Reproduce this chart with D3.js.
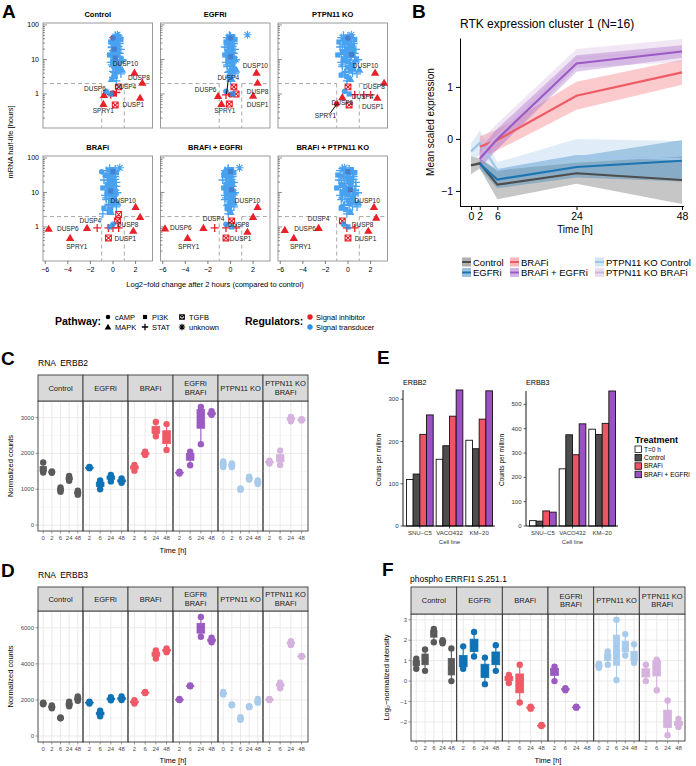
<!DOCTYPE html>
<html><head><meta charset="utf-8">
<script src="https://cdn.jsdelivr.net/npm/d3@7"></script>
<style>body{margin:0;background:#fff}svg{display:block}text{font-family:"Liberation Sans",Arial,sans-serif}</style>
</head><body><svg id="c" width="696" height="766"></svg>
<script>
// ================= DATA =================
// Panel A
const aTitles = ["Control","EGFRi","PTPN11 KO","BRAFi","BRAFi + EGFRi","BRAFi + PTPN11 KO"];
const blueHL = [52,48,45,42,40,36,33,30,28,26,24,22,20,19,18,16,15,14,13,12,11,10,9.5,9,8,7.5,7,6,5.5,5,4.5,4,3.5,3,2.7,2.4,1.2,1.0,
  50,46,43,38,35,32,29,27,25,23,21,19.5,17,15.5,14.5,13.5,12.5,11.5,10.5,9.8,8.8,8.2,7.2,6.6,6.2,5.2,4.8,4.2,3.8,3.2];
const blueShape = ("apspcspspsppscpsppspstpspcpsptppsptpcs"+"pspspsppspspspssppspspsppsspps").split("");
const blueLFC = [
 [0.4,0.5,0.3,0.6,0.1,0.2,0.4,0.0,0.3,0.1,0.5,-0.1,0.2,0.4,0.0,0.3,0.6,-0.2,0.1,0.4,0.2,0.7,0.9,0.0,0.3,0.5,-0.1,0.2,0.4,0.8,0.0,0.3,0.1,0.0,-0.1,0.3,-0.6,-0.2,
  0.2,0.5,0.0,0.7,0.3,-0.2,0.6,0.1,0.4,-0.1,0.3,0.7,0.0,0.5,0.2,-0.3,0.4,0.6,0.1,0.8,0.2,-0.2,0.5,0.3,0.0,0.6,0.4,0.1,0.7,0.2],
 [1.5,0.0,-0.1,0.1,-0.2,0.0,0.2,-0.3,0.1,-0.1,0.2,-0.3,0.0,0.1,-0.2,0.0,0.3,-0.4,-0.1,0.2,0.0,0.4,0.1,-0.2,0.0,0.2,-0.3,0.1,0.3,0.5,-0.1,0.2,0.0,-0.1,0.1,0.0,-0.4,0.2,
  -0.1,0.2,-0.3,0.4,0.0,-0.4,0.3,-0.2,0.1,-0.5,0.0,0.4,-0.3,0.2,-0.1,-0.5,0.1,0.3,-0.2,0.5,0.0,-0.4,0.2,0.0,-0.3,0.3,0.1,-0.2,0.4,-0.1],
 [0.3,0.0,-0.2,0.2,-0.4,0.1,0.3,-0.3,0.0,0.4,-0.5,0.2,-0.1,0.5,-0.3,0.1,0.6,-0.6,0.0,0.3,-0.2,0.7,0.2,-0.4,0.1,0.5,-0.5,0.0,0.3,1.0,-0.2,0.4,-0.6,0.0,0.2,-0.1,-0.3,0.1,
  -0.4,0.3,-0.6,0.6,0.0,-0.8,0.5,-0.3,0.2,-0.7,0.1,0.7,-0.5,0.4,-0.2,-0.9,0.3,0.6,-0.4,0.9,0.0,-0.6,0.4,0.1,-0.5,0.5,0.2,-0.3,0.8,-0.1],
 [0.6,0.2,-0.3,0.0,-1.0,-0.2,0.1,-0.4,0.0,-0.3,0.2,-0.5,-0.1,0.1,-0.4,-0.2,0.3,-0.6,-0.3,0.0,-0.2,0.2,-0.1,-0.5,-0.3,0.1,-0.6,-0.2,0.0,0.4,-0.4,-0.1,-0.8,-0.5,-0.2,-0.9,0.0,-0.3,
  -0.3,0.0,-0.6,0.3,-0.2,-0.7,0.2,-0.4,-0.1,-0.8,-0.2,0.3,-0.5,0.1,-0.3,-0.9,0.0,0.2,-0.5,0.4,-0.2,-0.7,0.1,-0.3,-0.6,0.2,-0.1,-0.4,0.3,-0.2],
 [0.8,-0.2,-0.3,0.0,-0.5,-0.1,0.1,-0.3,0.0,-0.2,0.1,-0.4,-0.1,0.2,-0.3,0.0,0.2,-0.5,-0.2,0.1,-0.1,0.3,0.0,-0.3,-0.1,0.2,-0.4,0.0,0.1,0.3,-0.2,0.0,-0.3,-0.1,0.0,-0.2,-0.4,0.1,
  -0.2,0.1,-0.5,0.3,-0.1,-0.6,0.2,-0.3,0.0,-0.7,-0.1,0.3,-0.4,0.1,-0.2,-0.6,0.0,0.2,-0.4,0.4,-0.1,-0.5,0.2,-0.2,-0.5,0.2,0.0,-0.3,0.3,-0.1],
 [-0.3,0.1,-0.4,0.3,-0.2,0.0,0.4,-0.5,0.2,-0.1,0.5,-0.6,0.1,0.3,-0.3,0.2,0.7,-0.7,0.0,0.4,-0.2,0.6,0.1,-0.4,0.2,0.5,-0.5,0.0,0.3,0.9,-0.3,0.4,-0.6,0.1,0.2,-0.1,-0.4,0.0,
  -0.5,0.3,-0.7,0.6,-0.1,-0.9,0.5,-0.4,0.2,-0.8,0.0,0.7,-0.6,0.4,-0.3,-1.0,0.2,0.6,-0.5,0.9,-0.1,-0.7,0.4,0.0,-0.6,0.5,0.1,-0.4,0.8,-0.2]
];
const redPts = [
 [[1.9,4.1,'t'],[2.6,2.1,'t'],[2.4,0.77,'t'],[0.2,0.48,'x'],[-0.8,0.94,'t'],[-0.85,0.51,'t'],[0.5,1.6,'x'],[0.0,1.07,'c'],[-0.2,0.95,'p'],[0.3,1.1,'p'],[0.1,1.0,'s'],[0.0,42,'c'],[0.2,11,'s'],[0.1,20,'s']],
 [[2.3,4.1,'t'],[2.4,2.1,'t'],[2.0,0.89,'t'],[-1.1,0.87,'t'],[-0.8,0.51,'t'],[-0.1,0.51,'x'],[0.3,1.6,'x'],[0.5,1.0,'x'],[-0.4,0.94,'p'],[0.0,0.95,'c'],[0.0,42,'c'],[0.0,12,'s']],
 [[2.4,4.1,'t'],[3.2,2.1,'t'],[2.6,0.77,'t'],[0.1,0.48,'x'],[0.0,1.6,'x'],[1.4,0.94,'p'],[2.0,0.94,'p'],[-1.0,0.51,'c'],[-0.5,0.8,'t'],[0.6,0.95,'p'],[0.0,42,'c'],[0.3,14,'s']],
 [[-5.7,0.88,'t'],[-3.8,0.48,'t'],[-2.3,0.94,'t'],[-1.4,0.94,'p'],[-0.4,0.94,'p'],[0.0,0.94,'p'],[0.5,0.94,'p'],[0.4,1.5,'x'],[0.5,2.3,'x'],[-0.4,0.48,'x'],[1.8,0.77,'t'],[2.0,3.8,'t'],[2.4,1.95,'t'],[0.0,40,'s'],[-0.2,11,'s']],
 [[-5.8,0.9,'t'],[-3.8,0.48,'t'],[-2.4,0.94,'t'],[-1.4,0.94,'p'],[-0.4,0.94,'p'],[0.5,0.94,'p'],[0.1,1.5,'x'],[-0.4,0.48,'x'],[1.5,0.72,'t'],[2.0,1.95,'t'],[2.4,3.8,'t'],[0.0,40,'s'],[0.1,12,'s']],
 [[-5.6,0.82,'t'],[-4.8,0.48,'t'],[-2.6,0.94,'t'],[-0.5,1.5,'x'],[-0.1,0.94,'p'],[0.6,0.94,'p'],[0.0,0.48,'x'],[1.8,0.77,'t'],[2.3,3.8,'t'],[2.5,1.85,'t'],[0.0,40,'s'],[0.2,12,'s']]
];
const geneLabels = [
 [["DUSP10",1.1,7.4],["DUSP8",2.3,2.9],["DUSP4",1.1,1.6],["DUSP6",-1.6,1.4],["SPRY1",-0.85,0.32],["DUSP1",1.8,0.48]],
 [["DUSP10",2.2,6.5],["DUSP4",-0.2,2.9],["DUSP6",-2.2,1.3],["DUSP8",2.4,1.2],["DUSP1",2.4,0.48],["SPRY1",-0.5,0.32]],
 [["DUSP10",1.55,6.5],["DUSP8",2.3,1.6],["DUSP4",1.3,0.82],["DUSP1",2.2,0.42],["DUSP6",-0.5,0.55],["SPRY1",-2.0,0.23]],
 [["DUSP10",0.9,5.7],["DUSP8",1.3,1.14],["DUSP4",-2.0,1.5],["DUSP6",-4.0,0.88],["SPRY1",-3.2,0.26],["DUSP1",1.1,0.45]],
 [["DUSP10",1.5,5.7],["DUSP8",0.7,1.14],["DUSP4",-1.5,1.7],["DUSP6",-4.4,0.94],["SPRY1",-3.7,0.26],["DUSP1",0.9,0.45]],
 [["DUSP10",1.7,5.7],["DUSP8",1.3,1.14],["DUSP4",-2.6,1.7],["DUSP6",-3.8,0.88],["SPRY1",-4.2,0.26],["DUSP1",1.55,0.45]]
];
const leaderLines = [[],[[-0.2,2.5,-0.35,1.0]],[[-1.6,0.27,-1.0,0.5]],[],[],[]];
const aXTicks = [-6,-4,-2,0,2];
const aYTicks = [1,10,100];
const pathwayNames = ["cAMP","PI3K","TGFB","MAPK","STAT","unknown"];
const pathwayShapes = ["c","s","x","t","p","a"];
const regulatorNames = ["Signal inhibitor","Signal transducer"];

// Panel B
const bTimes = [0,2,6,24,48];
const bNames = ["Control","EGFRi","BRAFi","BRAFi + EGFRi","PTPN11 KO Control","PTPN11 KO BRAFi"];
const bMean = [[-0.51,-0.47,-0.88,-0.66,-0.79],[null,-0.48,-0.78,-0.54,-0.42],[null,-0.15,-0.02,0.83,1.28],[null,-0.38,0.0,1.45,1.68],[-0.24,-0.08,-0.6,-0.33,-0.39],[null,-0.3,0.05,1.55,1.7]];
const bLo = [[-0.68,-0.57,-1.16,-0.86,-1.25],[null,-0.58,-0.95,-0.74,-0.82],[null,-0.35,-0.22,0.56,1.04],[null,-0.56,-0.2,1.29,1.56],[-0.39,-0.32,-0.75,-0.66,-0.74],[null,-0.55,-0.2,1.37,1.48]];
const bHi = [[-0.34,-0.37,-0.6,-0.46,-0.34],[null,-0.38,-0.61,-0.34,-0.02],[null,0.05,0.18,1.1,1.52],[null,-0.2,0.2,1.61,1.8],[-0.09,0.16,-0.45,0.0,-0.04],[null,-0.05,0.3,1.73,1.92]];
const bYTicks = [-1,0,1];

// Panels C, D, F (facets)
const facetNames = ["Control","EGFRi","BRAFi","EGFRi\nBRAFi","PTPN11 KO","PTPN11 KO\nBRAFi"];
const facetTimes = [["0","2","6","24","48"],["2","6","24","48"],["2","6","24","48"],["2","6","24","48"],["0","2","6","24","48"],["2","6","24","48"]];
const rnaERBB2 = [
 [[1750,1530,1470],[1500,1480,1460],[1050,980,930],[1370,1300,1240],[960,900,850]],
 [[1620,1600,1590],[1250,1150,1000],[1400,1340,1220],[1300,1230,1180]],
 [[1680,1620,1520],[2050,1990,1960],[2880,2630,2480],[2820,2450,2100]],
 [[1490,1460,1440],[2050,1950,1670],[3300,3150,2260],[3180,3100,3080]],
 [[1780,1700,1620],[1720,1660,1620],[1020,1000,990],[1350,1300,1270],[1250,1200,1150]],
 [[1800,1760,1720],[2080,1850,1680],[3020,2970,2900],[2960,2940,2920]]
];
const rnaERBB3 = [
 [[1850,1800,1760],[1700,1600,1540],[1030,1000,980],[1900,1750,1650],[2200,2050,1950]],
 [[1900,1850,1800],[1400,1250,1100],[2150,2050,1980],[2200,2050,2000]],
 [[1980,1880,1800],[2450,2400,2380],[4750,4550,4300],[4850,4750,4650]],
 [[2050,2020,2000],[2800,2780,2760],[6600,5900,5500],[5450,5300,5200]],
 [[2450,2350,2300],[1750,1720,1700],[1050,950,900],[1650,1620,1600],[2050,1920,1850]],
 [[2050,2020,2000],[2950,2850,2650],[5250,5150,5050],[4440,4420,4400]]
];
const phosERRFI1 = [
 [[1.1,0.9,0.6],[1.55,1.1,0.5],[2.55,2.4,1.9],[2.0,1.93,1.85],[1.6,0.6,0.0]],
 [[1.7,0.8,0.6],[2.4,1.7,1.2],[1.15,0.5,-0.15],[1.75,1.1,0.5]],
 [[0.3,0.15,-0.1],[0.8,-0.1,-1.05],[-1.25,-1.3,-1.35],[-2.15,-2.18,-2.2]],
 [[0.7,0.55,0.0],[-0.35,-0.4,-0.45],[-1.25,-1.28,-1.3],[]],
 [[0.85,0.75,0.65],[1.45,1.2,0.8],[3.0,1.5,0.05],[2.3,1.6,1.25],[1.8,1.1,0.9]],
 [[0.8,0.4,0.0],[1.05,0.95,-0.45],[-0.95,-1.9,-2.65],[-1.85,-2.1,-2.25]]
];
const cYTicks = [0,1000,2000,3000];
const dYTicks = [0,2000,4000,6000];
const fYTicks = [-2,-1,0,1,2,3];

// Panel E
const eCells = ["SNU\u2212C5","VACO432","KM\u221220"];
const eTreat = ["T=0 h","Control","BRAFi","BRAFi + EGFRi"];
const eERBB2 = [[110,123,217,263],[158,190,260,322],[203,183,253,320]];
const eERBB3 = [[22,20,62,57],[235,375,293,420],[398,376,422,555]];
const eERBB2Ticks = [0,100,200,300];
const eERBB3Ticks = [0,100,200,300,400,500];

// ================= STYLE =================
const condColors = ["#5a5a5a","#0f72b4","#f05a66","#9b5bc2","#a9cbeb","#d5b3de"];
const bColors = ["#4d4d4d","#1b75b3","#ef5b65","#9c5bc4","#9fc6ea","#d3b1de"];
const eColors = ["#ffffff","#4d4d4d","#ef5466","#9b50c4"];
const RED = "#ea2029", BLUE = "#2a92ee";

const svg = d3.select("#c");
function txt(g,x,y,s,size,opt={}){
  const t=g.append("text").attr("x",x).attr("y",y).text(s).style("font-size",size+"px");
  if(opt.anchor) t.attr("text-anchor",opt.anchor);
  if(opt.bold) t.style("font-weight","bold");
  if(opt.fill) t.attr("fill",opt.fill);
  if(opt.pre) t.style("white-space","pre");
  if(opt.rot) t.attr("transform",`rotate(-90,${x},${y})`);
  return t;
}
[["A",2,18],["B",412,18],["C",1,365],["D",1,577],["E",377,364],["F",382,576]].forEach(d=>txt(svg,d[1],d[2],d[0],19,{bold:true}));

// ================= PANEL A =================
function sym(g,x,y,shape,color,scale=1){
  if(shape==='c') g.append("circle").attr("cx",x).attr("cy",y).attr("r",2.8*scale).attr("fill",color);
  else if(shape==='s') g.append("rect").attr("x",x-2.6*scale).attr("y",y-2.6*scale).attr("width",5.2*scale).attr("height",5.2*scale).attr("fill",color);
  else if(shape==='t') g.append("path").attr("d",d3.symbol(d3.symbolTriangle,30*scale*scale)()).attr("transform",`translate(${x},${y+0.6})`).attr("fill",color);
  else if(shape==='p'){const r=4*scale;g.append("path").attr("d",`M${x-r},${y}h${2*r}M${x},${y-r}v${2*r}`).attr("stroke",color).attr("stroke-width",1.3);}
  else if(shape==='a'){const r=4*scale,q=r*0.72;g.append("path").attr("d",`M${x-r},${y}h${2*r}M${x},${y-r}v${2*r}M${x-q},${y-q}L${x+q},${y+q}M${x-q},${y+q}L${x+q},${y-q}`).attr("stroke",color).attr("stroke-width",1.1);}
  else if(shape==='x'){const r=2.9*scale;g.append("path").attr("d",`M${x-r},${y-r}h${2*r}v${2*r}h${-2*r}ZM${x-r},${y-r}L${x+r},${y+r}M${x-r},${y+r}L${x+r},${y-r}`).attr("stroke",color).attr("stroke-width",1.1).attr("fill","none");}
}
(function(){
  const W=109.5, X0=43, STEP=117.5, TOPS=[23,156], H=105;
  const g=svg.append("g");
  aTitles.forEach((title,i)=>{
    const col=i%3,row=Math.floor(i/3);
    const x0=X0+col*STEP, y0=TOPS[row];
    const xs=d3.scaleLinear().domain([-6.2,3.5]).range([x0,x0+W]);
    const ys=d3.scaleLog().domain([0.103,114]).range([y0+H,y0]);
    g.append("rect").attr("x",x0).attr("y",y0).attr("width",W).attr("height",H).attr("fill","#fff").attr("stroke","#9a9a9a").attr("stroke-width",1);
    txt(g,x0+W/2,y0-6,title,7.5,{anchor:"middle",bold:true});
    [0.1,1,10,100].forEach(dec=>{
      for(let k=1;k<10;k++){const v=dec*k; if(v<ys.domain()[0]||v>ys.domain()[1]) continue;
        const yy=ys(v); g.append("line").attr("x1",x0).attr("x2",x0+(k===1?4:2)).attr("y1",yy).attr("y2",yy).attr("stroke","#444").attr("stroke-width",0.6);}
    });
    if(col===0) aYTicks.forEach(v=>txt(g,x0-4,ys(v)+2.5,String(v),7,{anchor:"end"}));
    if(row===1) aXTicks.forEach(v=>{
      g.append("line").attr("x1",xs(v)).attr("x2",xs(v)).attr("y1",y0+H).attr("y2",y0+H+3).attr("stroke","#444").attr("stroke-width",0.7);
      txt(g,xs(v),y0+H+11,v<0?"\u2212"+(-v):String(v),7,{anchor:"middle"});
    });
    const dash=l=>l.attr("stroke","#a8a8a8").attr("stroke-width",1).attr("stroke-dasharray","4,3");
    dash(g.append("line").attr("x1",xs(-6.2)).attr("x2",xs(-1)).attr("y1",ys(2)).attr("y2",ys(2)));
    dash(g.append("line").attr("x1",xs(1)).attr("x2",xs(3.5)).attr("y1",ys(2)).attr("y2",ys(2)));
    dash(g.append("line").attr("x1",xs(-1)).attr("x2",xs(-1)).attr("y1",ys(2)).attr("y2",y0+H));
    dash(g.append("line").attr("x1",xs(1)).attr("x2",xs(1)).attr("y1",ys(2)).attr("y2",y0+H));
    redPts[i].forEach(p=>sym(g,xs(p[0]),ys(p[1]),p[2],RED));
    const bg=g.append("g").attr("opacity",0.85);
    blueHL.forEach((hl,j)=>sym(bg,xs(blueLFC[i][j]),ys(hl),blueShape[j],BLUE));
    leaderLines[i].forEach(l=>g.append("line").attr("x1",xs(l[0])).attr("y1",ys(l[1])).attr("x2",xs(l[2])).attr("y2",ys(l[3])).attr("stroke","#000").attr("stroke-width",1));
    geneLabels[i].forEach(l=>txt(g,xs(l[1]),ys(l[2])+2.3,l[0],6.5,{anchor:"middle",fill:"#222"}));
  });
  txt(g,13,142,"mRNA half-life [hours]",7.5,{anchor:"middle",rot:true});
  txt(g,215,287,"Log2\u2212fold change after 2 hours (compared to control)",7.5,{anchor:"middle"});
  txt(g,55,325,"Pathway:",10.5,{bold:true});
  pathwayNames.forEach((n,k)=>{
    const cx=108+(k%3)*37, cy=317+Math.floor(k/3)*10;
    sym(g,cx,cy,pathwayShapes[k],"#000",0.8);
    txt(g,cx+7,cy+2.6,n,7.5);
  });
  txt(g,245,325,"Regulators:",10.5,{bold:true});
  regulatorNames.forEach((n,k)=>{
    const cy=317+k*10;
    g.append("circle").attr("cx",310).attr("cy",cy).attr("r",2.7).attr("fill",k?BLUE:RED);
    txt(g,316,cy+2.6,n,7.5);
  });
})();

// ================= PANEL B =================
(function(){
  const g=svg.append("g");
  const x=d3.scaleLinear().domain([-2.5,48]).range([460,682]);
  const y=d3.scaleLinear().domain([-1.29,1.94]).range([206,38]);
  txt(g,460,28,"RTK expression cluster 1 (N=16)",12);
  const order=[0,4,1,2,5,3];
  order.forEach(s=>{
    const d=bTimes.map((t,k)=>({t,m:bMean[s][k],lo:bLo[s][k],hi:bHi[s][k]})).filter(v=>v.m!=null);
    g.append("path").attr("d",d3.area().x(v=>x(v.t)).y0(v=>y(v.lo)).y1(v=>y(v.hi))(d)).attr("fill",bColors[s]).attr("opacity",0.32);
  });
  order.forEach(s=>{
    const d=bTimes.map((t,k)=>({t,m:bMean[s][k]})).filter(v=>v.m!=null);
    g.append("path").attr("d",d3.line().x(v=>x(v.t)).y(v=>y(v.m))(d)).attr("fill","none").attr("stroke",bColors[s]).attr("stroke-width",2.2);
  });
  const ax=g.append("g").attr("transform","translate(0,206)").call(d3.axisBottom(x).tickValues(bTimes).tickFormat(d3.format("d")).tickSize(4).tickSizeOuter(0));
  const ay=g.append("g").attr("transform","translate(460,0)").call(d3.axisLeft(y).tickValues(bYTicks).tickFormat(d3.format("d")).tickSize(4).tickSizeOuter(0));
  [ax,ay].forEach(a=>{a.selectAll("text").style("font-size","10.5px").attr("fill","#000");a.selectAll("path,line").attr("stroke","#000");});
  ax.select(".domain").attr("d","M460,0.5H684");
  txt(g,575,233,"Time [h]",10,{anchor:"middle"});
  txt(g,434,122,"Mean scaled expression",10,{anchor:"middle",rot:true});
  const kx=[462,510,595];
  bNames.forEach((n,s)=>{
    const cx=kx[Math.floor(s/2)], cy=262+(s%2)*10.5;
    g.append("rect").attr("x",cx).attr("y",cy-4.5).attr("width",9).attr("height",9).attr("fill",bColors[s]).attr("opacity",0.45);
    g.append("line").attr("x1",cx).attr("x2",cx+9).attr("y1",cy).attr("y2",cy).attr("stroke",bColors[s]).attr("stroke-width",2);
    txt(g,cx+11,cy+3.5,n,9.5);
  });
})();

// ================= FACET BOX PANELS =================
function facetPanel(o){
  const g=svg.append("g");
  const n=facetNames.length, fw=(o.right-o.left)/n;
  const all=o.values.flat(2);
  let lo=d3.min(all), hi=d3.max(all);
  if(o.zero) lo=Math.min(0,lo);
  const pad=(hi-lo)*0.05;
  const y=d3.scaleLinear().domain([lo-pad,hi+pad]).range([o.bottom,o.stripBot]);
  txt(g,o.titleX,o.titleY,o.title,8.5,{pre:true});
  txt(g,o.ylabX,(o.stripBot+o.bottom)/2,o.ylab,7.5,{anchor:"middle",rot:true});
  txt(g,(o.left+o.right)/2,o.timeY,"Time [h]",7.5,{anchor:"middle"});
  const st=o.yTicks[1]-o.yTicks[0];
  const minor=o.yTicks.map(v=>v-st/2).concat([o.yTicks[o.yTicks.length-1]+st/2]).filter(v=>v>y.domain()[0]&&v<y.domain()[1]);
  facetNames.forEach((name,i)=>{
    const fx0=o.left+i*fw, fx1=fx0+fw;
    const x=d3.scalePoint().domain(facetTimes[i]).range([fx0,fx1]).padding(0.6);
    const step=x.step(), bw=step*0.72;
    minor.forEach(v=>g.append("line").attr("x1",fx0).attr("x2",fx1).attr("y1",y(v)).attr("y2",y(v)).attr("stroke","#f2f2f2").attr("stroke-width",0.6));
    o.yTicks.forEach(v=>g.append("line").attr("x1",fx0).attr("x2",fx1).attr("y1",y(v)).attr("y2",y(v)).attr("stroke","#e4e4e4").attr("stroke-width",0.8));
    facetTimes[i].forEach(t=>g.append("line").attr("x1",x(t)).attr("x2",x(t)).attr("y1",o.stripBot).attr("y2",o.bottom).attr("stroke","#e4e4e4").attr("stroke-width",0.8));
    const col=condColors[i];
    o.values[i].forEach((vals,j)=>{
      if(!vals||!vals.length) return;
      const s=vals.slice().sort(d3.ascending);
      const q1=d3.quantile(s,0.25), q3=d3.quantile(s,0.75), iqr=q3-q1;
      const wl=d3.min(s.filter(v=>v>=q1-1.5*iqr)), wh=d3.max(s.filter(v=>v<=q3+1.5*iqr));
      const cx=x(facetTimes[i][j]);
      g.append("line").attr("x1",cx).attr("x2",cx).attr("y1",y(wl)).attr("y2",y(wh)).attr("stroke",col).attr("stroke-width",1.1);
      g.append("rect").attr("x",cx-bw/2).attr("width",bw).attr("y",y(q3)).attr("height",Math.max(0.8,y(q1)-y(q3))).attr("fill",col).attr("stroke",col).attr("stroke-width",0.8);
      s.forEach(v=>g.append("circle").attr("cx",cx).attr("cy",y(v)).attr("r",3.2).attr("fill",col));
    });
    g.append("rect").attr("x",fx0).attr("y",o.stripBot).attr("width",fw).attr("height",o.bottom-o.stripBot).attr("fill","none").attr("stroke","#3a3a3a").attr("stroke-width",0.9);
    g.append("rect").attr("x",fx0).attr("y",o.stripTop).attr("width",fw).attr("height",o.stripBot-o.stripTop).attr("fill","#d9d9d9").attr("stroke","#3a3a3a").attr("stroke-width",0.9);
    const lines=name.split("\n"), cy=(o.stripTop+o.stripBot)/2;
    lines.forEach((ln,k)=>txt(g,(fx0+fx1)/2,cy+2.7+(k-(lines.length-1)/2)*8.5,ln,7.5,{anchor:"middle",fill:"#1a1a1a"}));
    facetTimes[i].forEach(t=>{
      g.append("line").attr("x1",x(t)).attr("x2",x(t)).attr("y1",o.bottom).attr("y2",o.bottom+2.5).attr("stroke","#555").attr("stroke-width",0.6);
      txt(g,x(t),o.bottom+8.5,t,6,{anchor:"middle",fill:"#4d4d4d"});
    });
  });
  o.yTicks.forEach(v=>{
    g.append("line").attr("x1",o.left-2.5).attr("x2",o.left).attr("y1",y(v)).attr("y2",y(v)).attr("stroke","#555").attr("stroke-width",0.6);
    txt(g,o.left-4,y(v)+2,v<0?"\u2212"+(-v):String(v),6,{anchor:"end",fill:"#4d4d4d"});
  });
}
facetPanel({left:38,right:308,stripTop:375,stripBot:401,bottom:531,values:rnaERBB2,yTicks:cYTicks,zero:true,title:"RNA  ERBB2",titleX:38,titleY:366,ylab:"Normalized counts",ylabX:13,timeY:553});
facetPanel({left:38,right:308,stripTop:587,stripBot:611,bottom:742,values:rnaERBB3,yTicks:dYTicks,zero:true,title:"RNA  ERBB3",titleX:38,titleY:578,ylab:"Normalized counts",ylabX:13,timeY:763});
facetPanel({left:411,right:685,stripTop:587,stripBot:614,bottom:741,values:phosERRFI1,yTicks:fYTicks,zero:false,title:"phospho ERRFI1 S.251.1",titleX:410,titleY:582,ylab:"Log\u2082\u2212normalized intensity",ylabX:389,timeY:763});

// ================= PANEL E =================
function bars(o){
  const g=svg.append("g");
  const y=d3.scaleLinear().domain([0,d3.max(o.vals.flat())]).range([526,o.top]);
  const xb=d3.scaleBand().domain(eCells).range(o.range).paddingInner(0.1).paddingOuter(0.05);
  const xi=d3.scaleBand().domain(eTreat).range([0,xb.bandwidth()]);
  o.vals.forEach((row,ci)=>row.forEach((v,ti)=>{
    g.append("rect").attr("x",xb(eCells[ci])+xi(eTreat[ti])).attr("y",y(v)).attr("width",xi.bandwidth()).attr("height",y(0)-y(v)).attr("fill",eColors[ti]).attr("stroke","#111").attr("stroke-width",0.9);
  }));
  g.append("line").attr("x1",o.axisX).attr("x2",o.axisX).attr("y1",y(0)).attr("y2",o.top).attr("stroke","#000").attr("stroke-width",0.9);
  g.append("line").attr("x1",o.axisX).attr("x2",o.range[1]+1).attr("y1",y(0)).attr("y2",y(0)).attr("stroke","#000").attr("stroke-width",0.9);
  o.ticks.forEach(v=>{
    g.append("line").attr("x1",o.axisX-2.5).attr("x2",o.axisX).attr("y1",y(v)).attr("y2",y(v)).attr("stroke","#000").attr("stroke-width",0.6);
    txt(g,o.axisX-4.5,y(v)+2,String(v),6,{anchor:"end",fill:"#333"});
  });
  eCells.forEach(c=>{
    const cx=xb(c)+xb.bandwidth()/2;
    g.append("line").attr("x1",cx).attr("x2",cx).attr("y1",y(0)).attr("y2",y(0)+2.5).attr("stroke","#000").attr("stroke-width",0.6);
    txt(g,cx,535,c,6,{anchor:"middle",fill:"#333"});
  });
  txt(g,(o.range[0]+o.range[1])/2,544,"Cell line",6,{anchor:"middle",fill:"#333"});
  txt(g,o.ylabX,460,"Counts per million",6.5,{anchor:"middle",rot:true});
  txt(g,o.axisX,385,o.title,7.2);
}
bars({vals:eERBB2,top:390,range:[405,494],axisX:403,ticks:eERBB2Ticks,title:"ERBB2",ylabX:381});
bars({vals:eERBB3,top:391,range:[528,617],axisX:526,ticks:eERBB3Ticks,title:"ERBB3",ylabX:504});
(function(){
  const g=svg.append("g");
  txt(g,635,443,"Treatment",9,{bold:true});
  eTreat.forEach((t,k)=>{
    const yy=446+k*8.4;
    g.append("rect").attr("x",635).attr("y",yy).attr("width",6.5).attr("height",6.5).attr("fill",eColors[k]).attr("stroke","#111").attr("stroke-width",0.8);
    txt(g,644,yy+5.5,t,6.5);
  });
})();
</script></body></html>
